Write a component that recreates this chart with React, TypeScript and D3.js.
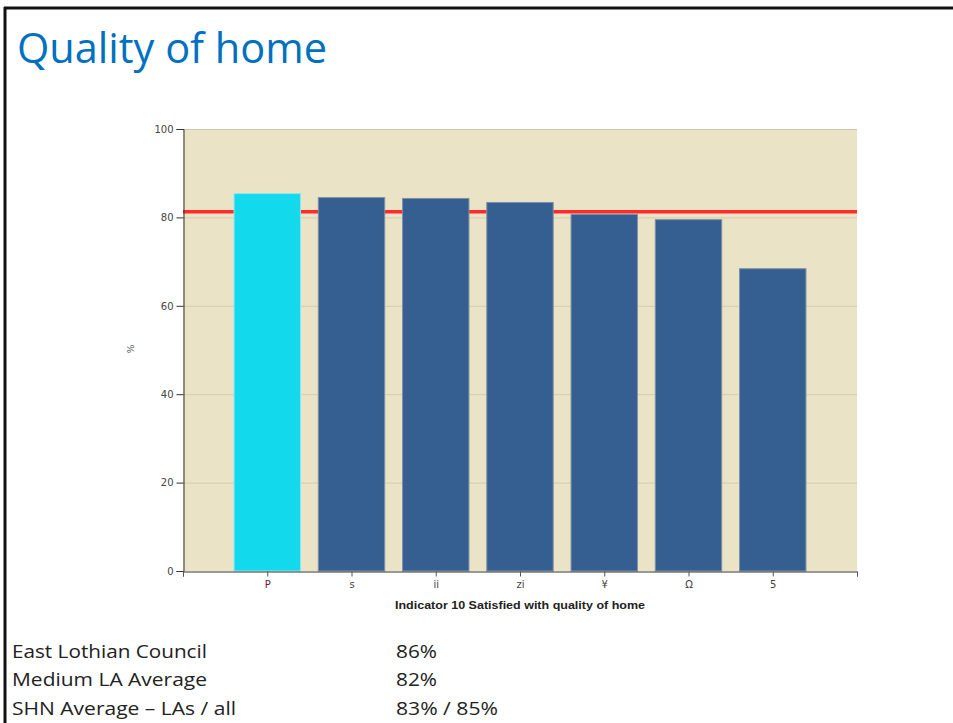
import React, { useEffect, useRef } from "react";
import * as d3 from "d3";

const categories = ["P", "s", "ii", "zi", "¥", "Ω", "5"];
const values = [85.5, 84.6, 84.4, 83.5, 80.8, 79.6, 68.5];
const highlight = [true, false, false, false, false, false, false];
const referenceValue = 81.3;
const yTicks = [0, 20, 40, 60, 80, 100];
const summaryLabels = ["East Lothian Council", "Medium LA Average", "SHN Average – LAs / all"];
const summaryValues = ["86%", "82%", "83% / 85%"];

const W = 953;
const H = 723;
const plot = { left: 183, right: 857, top: 129, bottom: 571 };

export default function App() {
  const ref = useRef<SVGSVGElement | null>(null);

  useEffect(() => {
    const svg = d3.select(ref.current);
    svg.selectAll("*").remove();

    // slide frame
    svg.append("rect").attr("x", 0).attr("y", 0).attr("width", W).attr("height", H).attr("fill", "#fff");
    svg.append("line").attr("x1", 5).attr("x2", 5).attr("y1", 7).attr("y2", H).attr("stroke", "#111").attr("stroke-width", 3);
    svg.append("line").attr("x1", 4).attr("x2", W).attr("y1", 8).attr("y2", 8).attr("stroke", "#111").attr("stroke-width", 3);

    // title
    svg.append("text")
      .attr("x", 17).attr("y", 63)
      .attr("font-family", "'Open Sans', 'Noto Sans', sans-serif")
      .attr("font-size", 42)
      .attr("fill", "#0070c0")
      .attr("textLength", 310)
      .attr("lengthAdjust", "spacingAndGlyphs")
      .text("Quality of home");

    const x = d3.scaleLinear().domain([0, categories.length + 1]).range([plot.left, plot.right]);
    const y = d3.scaleLinear().domain([0, 100]).range([plot.bottom, plot.top]);
    const step = x(1) - x(0);
    const bw = step * 0.8;

    const g = svg.append("g");
    g.append("rect")
      .attr("x", plot.left).attr("y", plot.top)
      .attr("width", plot.right - plot.left).attr("height", plot.bottom - plot.top)
      .attr("fill", "#ebe3c5");
    g.append("line")
      .attr("x1", plot.left).attr("x2", plot.right)
      .attr("y1", plot.top + 0.5).attr("y2", plot.top + 0.5)
      .attr("stroke", "#cfc6ac").attr("stroke-width", 1);

    // gridlines
    g.selectAll(".grid").data(yTicks.filter((t) => t > 0 && t < 100)).enter()
      .append("line")
      .attr("x1", plot.left).attr("x2", plot.right)
      .attr("y1", (d) => y(d) + 0.5).attr("y2", (d) => y(d) + 0.5)
      .attr("stroke", "#d5ccb0").attr("stroke-width", 1);

    // reference line
    g.append("line")
      .attr("x1", plot.left).attr("x2", plot.right)
      .attr("y1", y(referenceValue)).attr("y2", y(referenceValue))
      .attr("stroke", "#ff2b2b").attr("stroke-width", 3.5);

    // bars
    g.selectAll(".bar").data(values).enter()
      .append("rect")
      .attr("x", (_d, i) => x(i + 1) - bw / 2 + 0.5)
      .attr("y", (d) => y(d) + 0.5)
      .attr("width", bw - 1)
      .attr("height", (d) => y(0) - y(d) - 0.5)
      .attr("fill", (_d, i) => (highlight[i] ? "#13d9ec" : "#365f91"))
      .attr("stroke", (_d, i) => (highlight[i] ? "#8fe6ef" : "#7f8fa6"))
      .attr("stroke-width", 1);

    // y axis
    const yAxis = d3.axisLeft(y).tickValues(yTicks).tickSize(7).tickPadding(3);
    const ya = svg.append("g").attr("transform", `translate(${plot.left + 0.5},0)`).call(yAxis);
    ya.select(".domain").attr("stroke", "#333");
    ya.selectAll(".tick line").attr("stroke", "#333");
    ya.selectAll("text").attr("font-family", "'DejaVu Sans', Verdana, sans-serif").attr("font-size", 10).attr("fill", "#444");

    // x axis
    const xAxis = d3.axisBottom(x)
      .tickValues(d3.range(0, categories.length + 2))
      .tickSize(5)
      .tickPadding(4)
      .tickFormat((d) => {
        const i = (d as number) - 1;
        return i >= 0 && i < categories.length ? categories[i] : "";
      });
    const xa = svg.append("g").attr("transform", `translate(0,${plot.bottom + 0.5})`).call(xAxis);
    xa.select(".domain").attr("stroke", "#333");
    xa.selectAll(".tick line").attr("stroke", "#555");
    xa.selectAll("text")
      .attr("font-family", "'DejaVu Sans', Verdana, sans-serif")
      .attr("font-size", 10)
      .attr("fill", (d) => ((d as number) === 1 ? "#6a1636" : "#444"));

    // axis titles
    svg.append("text")
      .attr("x", (plot.left + plot.right) / 2 - 0).attr("y", 609)
      .attr("text-anchor", "middle")
      .attr("font-family", "'Liberation Sans', Arial, sans-serif")
      .attr("font-weight", "bold")
      .attr("font-size", 11)
      .attr("fill", "#222")
      .attr("textLength", 250)
      .attr("lengthAdjust", "spacingAndGlyphs")
      .text("Indicator 10 Satisfied with quality of home");

    svg.append("text")
      .attr("transform", `translate(134,349) rotate(-90)`)
      .attr("text-anchor", "middle")
      .attr("font-family", "'DejaVu Sans', Verdana, sans-serif")
      .attr("font-size", 9)
      .attr("fill", "#555")
      .text("%");

    // summary rows
    const rowsY = [658, 686, 715];
    const labelLens = [195, 195, 224];
    const valueLens = [41, 41, 102];
    summaryLabels.forEach((t, i) => {
      svg.append("text")
        .attr("x", 12).attr("y", rowsY[i])
        .attr("font-family", "'Open Sans', 'Noto Sans', sans-serif")
        .attr("font-size", 19)
        .attr("fill", "#222")
        .attr("textLength", labelLens[i])
        .attr("lengthAdjust", "spacingAndGlyphs")
        .text(t);
      svg.append("text")
        .attr("x", 396).attr("y", rowsY[i])
        .attr("font-family", "'Open Sans', 'Noto Sans', sans-serif")
        .attr("font-size", 19)
        .attr("fill", "#222")
        .attr("textLength", valueLens[i])
        .attr("lengthAdjust", "spacingAndGlyphs")
        .text(summaryValues[i]);
    });
  }, []);

  return (
    <svg
      ref={ref}
      width={W}
      height={H}
      style={{ position: "absolute", left: 0, top: 0, display: "block" }}
    />
  );
}
